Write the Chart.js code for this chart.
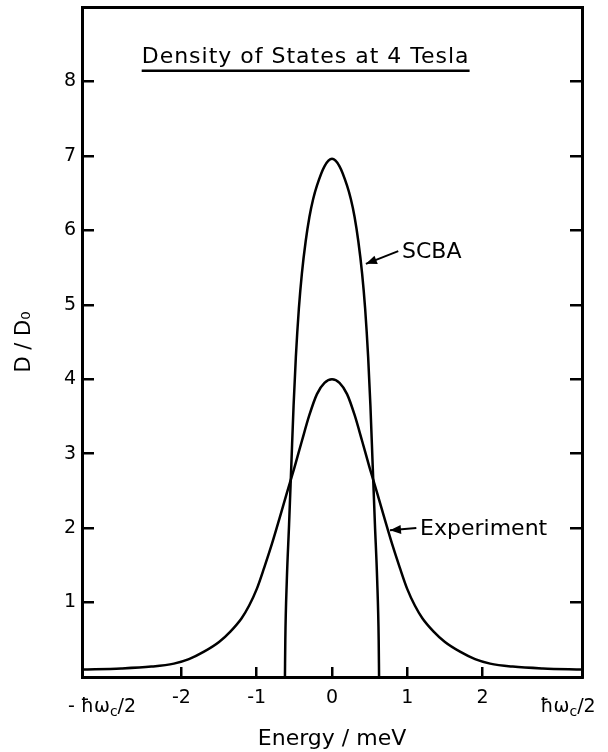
<!DOCTYPE html>
<html>
<head>
<meta charset="utf-8">
<script src="https://cdn.jsdelivr.net/npm/chart.js@4.4.1/dist/chart.umd.min.js"></script>
<style>
  html, body { margin: 0; padding: 0; background: #fff; }
  canvas { display: block; }
</style>
</head>
<body>
<canvas id="dosChart" width="608" height="752"></canvas>
<script>
// Half cyclotron energy at 4 T (edge of the plotted range), in meV
const halfCyclotron = 3.32;

// Experiment curve (energy in meV, D/D0)
const expEnergy = [-3.32, -2.8, -2.4, -2.1, -1.9, -1.7, -1.5, -1.35, -1.2, -1.1, -1.0, -0.9, -0.8, -0.7, -0.6, -0.5, -0.4, -0.3, -0.2, -0.1, 0,
                   0.1, 0.2, 0.3, 0.4, 0.5, 0.6, 0.7, 0.8, 0.9, 1.0, 1.1, 1.2, 1.35, 1.5, 1.7, 1.9, 2.1, 2.4, 2.8, 3.32];
const expValues = [0.10, 0.115, 0.14, 0.18, 0.24, 0.34, 0.47, 0.61, 0.79, 0.96, 1.18, 1.47, 1.78, 2.12, 2.47, 2.81, 3.17, 3.52, 3.8, 3.95, 4.0,
                   3.95, 3.8, 3.52, 3.17, 2.81, 2.47, 2.12, 1.78, 1.47, 1.18, 0.96, 0.79, 0.61, 0.47, 0.34, 0.24, 0.18, 0.14, 0.115, 0.10];

// SCBA curve
const scbaEnergy = [-0.625, -0.62, -0.6, -0.57, -0.54, -0.51, -0.48, -0.44, -0.4, -0.35, -0.3, -0.25, -0.2, -0.1, 0,
                    0.1, 0.2, 0.25, 0.3, 0.35, 0.4, 0.44, 0.48, 0.51, 0.54, 0.57, 0.6, 0.62, 0.625];
const scbaValues = [0, 0.5, 1.3, 2.05, 2.85, 3.65, 4.3, 4.95, 5.42, 5.85, 6.18, 6.42, 6.6, 6.86, 6.96,
                    6.86, 6.6, 6.42, 6.18, 5.85, 5.42, 4.95, 4.3, 3.65, 2.85, 2.05, 1.3, 0.5, 0];

// Axis ticks
const xTicks = [-halfCyclotron, -2, -1, 0, 1, 2, halfCyclotron];
const yTicks = [1, 2, 3, 4, 5, 6, 7, 8];

const FONT = '"DejaVu Sans", sans-serif';
const INK = '#000';

function toPoints(xs, ys) {
    return xs.map((x, i) => ({ x: x, y: ys[i] }));
}

// Text that Chart.js cannot place by itself: in-plot title, curve labels, ħω_c/2 tick labels
const annotations = {
    id: 'annotations',
    afterDraw(chart) {
        const ctx = chart.ctx;
        const xs = chart.scales.x;
        const ys = chart.scales.y;
        const px = v => xs.getPixelForValue(v);
        const py = v => ys.getPixelForValue(v);

        ctx.save();
        ctx.fillStyle = INK;
        ctx.strokeStyle = INK;

        // Title with underline
        ctx.font = '22px ' + FONT;
        ctx.letterSpacing = '1px';
        ctx.textAlign = 'center';
        ctx.textBaseline = 'alphabetic';
        const title = 'Density of States at 4 Tesla';
        const tx = px(-0.35);
        const ty = py(8.25);
        ctx.fillText(title, tx, ty);
        const tw = ctx.measureText(title).width;
        ctx.letterSpacing = '0px';
        ctx.lineWidth = 2.5;
        ctx.beginPath();
        ctx.moveTo(tx - tw / 2, ty + 8);
        ctx.lineTo(tx + tw / 2, ty + 8);
        ctx.stroke();

        // Curve labels with arrows
        function arrowLabel(text, tailE, tailD, tipE, tipD, textE) {
            const x1 = px(tailE), y1 = py(tailD), x2 = px(tipE), y2 = py(tipD);
            ctx.lineWidth = 2;
            ctx.beginPath();
            ctx.moveTo(x1, y1);
            ctx.lineTo(x2, y2);
            ctx.stroke();
            const a = Math.atan2(y2 - y1, x2 - x1);
            const len = 11, wid = 4.5;
            ctx.beginPath();
            ctx.moveTo(x2, y2);
            ctx.lineTo(x2 - len * Math.cos(a) + wid * Math.sin(a), y2 - len * Math.sin(a) - wid * Math.cos(a));
            ctx.lineTo(x2 - len * Math.cos(a) - wid * Math.sin(a), y2 - len * Math.sin(a) + wid * Math.cos(a));
            ctx.closePath();
            ctx.fill();
            ctx.font = '22px ' + FONT;
            ctx.textAlign = 'left';
            ctx.textBaseline = 'middle';
            ctx.fillText(text, px(textE), y1 + 1);
        }
        arrowLabel('SCBA', 0.88, 5.72, 0.45, 5.55, 0.93);
        arrowLabel('Experiment', 1.12, 2.0, 0.77, 1.97, 1.17);

        // ħω_c/2 tick labels with subscript c
        function hwLabel(value, prefix, shift) {
            const big = '19px ' + FONT, small = '14px ' + FONT;
            const parts = [[prefix + 'ħω', big, 0], ['c', small, 5], ['/2', big, 0]];
            let w = 0;
            parts.forEach(p => { ctx.font = p[1]; w += ctx.measureText(p[0]).width; });
            let x = px(value) + shift - w / 2;
            const y = xs.top + 30;
            ctx.textAlign = 'left';
            ctx.textBaseline = 'middle';
            parts.forEach(p => {
                ctx.font = p[1];
                ctx.fillText(p[0], x, y + p[2]);
                x += ctx.measureText(p[0]).width;
            });
        }
        hwLabel(-halfCyclotron, '- ', 20);
        hwLabel(halfCyclotron, '', -14);

        ctx.restore();
    }
};

const frame = { display: true, color: INK, width: 3 };
const inwardTicks = { drawOnChartArea: false, drawTicks: true, tickLength: -12, lineWidth: 2.5, color: INK };

function noPadding(scale) {
    scale.paddingTop = 0;
    scale.paddingBottom = 0;
    scale.paddingLeft = 0;
    scale.paddingRight = 0;
}

new Chart(document.getElementById('dosChart'), {
    type: 'line',
    data: {
        datasets: [
            {
                label: 'Experiment',
                data: toPoints(expEnergy, expValues),
                borderColor: INK,
                borderWidth: 2.5,
                pointRadius: 0,
                cubicInterpolationMode: 'monotone',
                fill: false
            },
            {
                label: 'SCBA',
                data: toPoints(scbaEnergy, scbaValues),
                borderColor: INK,
                borderWidth: 2.5,
                pointRadius: 0,
                cubicInterpolationMode: 'monotone',
                fill: false
            }
        ]
    },
    options: {
        responsive: false,
        animation: false,
        devicePixelRatio: 1,
        layout: { padding: { top: 7, left: 0, right: 0, bottom: 0 } },
        plugins: {
            legend: { display: false },
            tooltip: { enabled: false }
        },
        scales: {
            x: {
                type: 'linear',
                position: 'bottom',
                min: -halfCyclotron,
                max: halfCyclotron,
                afterBuildTicks: scale => { scale.ticks = xTicks.map(v => ({ value: v })); },
                afterFit: scale => { scale.height = 75; noPadding(scale); },
                border: frame,
                grid: { ...inwardTicks, tickLength: -10 },
                ticks: {
                    color: INK,
                    font: { family: FONT, size: 19 },
                    padding: 20,
                    maxRotation: 0,
                    autoSkip: false,
                    callback: v => (Math.abs(v) === halfCyclotron ? '' : String(v))
                },
                title: {
                    display: true,
                    text: 'Energy / meV',
                    color: INK,
                    font: { family: FONT, size: 22 },
                    padding: { top: 0, bottom: 0 }
                }
            },
            xTop: {
                type: 'linear',
                position: 'top',
                min: -halfCyclotron,
                max: halfCyclotron,
                afterFit: scale => { scale.height = 0; noPadding(scale); },
                border: frame,
                grid: { display: false },
                ticks: { display: false }
            },
            y: {
                type: 'linear',
                position: 'left',
                min: 0,
                max: 9,
                afterBuildTicks: scale => { scale.ticks = yTicks.map(v => ({ value: v })); },
                afterFit: scale => { scale.width = 82; noPadding(scale); },
                border: frame,
                grid: inwardTicks,
                ticks: {
                    color: INK,
                    font: { family: FONT, size: 19 },
                    padding: 18
                },
                title: {
                    display: true,
                    text: 'D / D₀',
                    color: INK,
                    font: { family: FONT, size: 21 },
                    padding: { top: 12, bottom: 0 }
                }
            },
            yRight: {
                type: 'linear',
                position: 'right',
                min: 0,
                max: 9,
                afterBuildTicks: scale => { scale.ticks = yTicks.map(v => ({ value: v })); },
                afterFit: scale => { scale.width = 26; noPadding(scale); },
                border: frame,
                grid: inwardTicks,
                ticks: { display: false }
            }
        }
    },
    plugins: [annotations]
});
</script>
</body>
</html>
